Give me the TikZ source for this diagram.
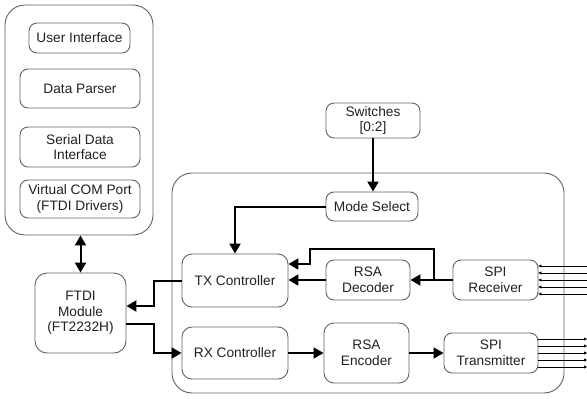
\documentclass[tikz,border=0pt]{standalone}
\usepackage{fontspec}
\setmainfont{Liberation Sans}
\usetikzlibrary{arrows.meta}
\definecolor{boxline}{HTML}{606060}
\definecolor{txt}{HTML}{202020}
\begin{document}
\begin{tikzpicture}[x=1pt,y=-1pt,
  blk/.style={draw=boxline,line width=0.9pt,rounded corners=8pt,align=center,inner sep=1pt,
    font=\fontsize{13.7}{15.5}\selectfont,text=txt},
  outer/.style={draw=boxline,line width=0.9pt,rounded corners=20pt},
  arr/.style={line width=2pt,-{Triangle[length=10pt,width=11pt]}},
  darr/.style={line width=2pt,{Triangle[length=10pt,width=11pt]}-{Triangle[length=10pt,width=11pt]}},
  bus/.style={line width=0.6pt,-{Triangle[length=3pt,width=3pt]}}]
\useasboundingbox (0,0) rectangle (587,399);
% outer containers
\node[outer,minimum width=148pt,minimum height=230pt] (host) at (79,120) {};
\node[outer,minimum width=392pt,minimum height=220pt] (fpga) at (368,283) {};
% host blocks
\node[blk,minimum width=101pt,minimum height=30pt] (ui) at (79.5,38) {User Interface};
\node[blk,minimum width=120pt,minimum height=39pt] (dp) at (80,88.5) {Data Parser};
\node[blk,minimum width=120pt,minimum height=40pt] (sdi) at (80,147) {Serial Data\\Interface};
\node[blk,minimum width=120pt,minimum height=38pt] (vcp) at (80,199) {Virtual COM Port\\(FTDI Drivers)};
\node[blk,minimum width=91pt,minimum height=80pt,rounded corners=12pt] (ftdi) at (80.5,313) {FTDI\\Module\\(FT2232H)};
% fpga blocks
\node[blk,minimum width=94pt,minimum height=35pt] (sw) at (373,120.5) {Switches\\{[0:2]}};
\node[blk,minimum width=92pt,minimum height=29pt] (ms) at (372,206.5) {Mode Select};
\node[blk,minimum width=106pt,minimum height=53pt,rounded corners=10pt] (tx) at (235,280.5) {TX Controller};
\node[blk,minimum width=106pt,minimum height=52pt,rounded corners=10pt] (rx) at (235,353) {RX Controller};
\node[blk,minimum width=84pt,minimum height=40pt] (dec) at (368,280) {RSA\\Decoder};
\node[blk,minimum width=85pt,minimum height=60pt,rounded corners=10pt] (enc) at (366.5,353) {RSA\\Encoder};
\node[blk,minimum width=85pt,minimum height=40pt] (spir) at (495.5,280) {SPI\\Receiver};
\node[blk,minimum width=94pt,minimum height=40pt] (spit) at (491,353) {SPI\\Transmitter};
% helper coordinates
\coordinate (j1) at (154,0);
\coordinate (br) at (434,280);
\coordinate (bt) at (434,249);
\coordinate (bl) at (310,249);
\coordinate (bd) at (310,264);
\coordinate (f1) at ([yshift=7pt]ftdi.east);
\coordinate (f2) at ([yshift=-11pt]ftdi.east);
\coordinate (edge) at (587,0);
% connectors
\draw[darr] (ftdi.north |- host.south) -- (ftdi.north);
\draw[arr] (sw.south) -- (sw.south |- ms.north);
\draw[arr] (ms.west) -| (tx.north);
\draw[arr] (tx.west) -- (tx.west -| j1) |- (f1);
\draw[arr] (f2) -- (f2 -| j1) |- (rx.west);
\draw[arr] (spir.west) -- (spir.west -| dec.east);
\draw[arr] (dec.west) -- (dec.west -| tx.east);
\draw[arr] (br) -- (bt) -- (bl) -- (bd) -- (bd -| tx.east);
\draw[arr] (rx.east) -- (rx.east -| enc.west);
\draw[arr] (enc.east) -- (enc.east -| spit.west);
% SPI buses
\foreach \dy in {-14,-7,0,7,14}{
  \draw[bus] ([yshift=\dy pt]spir.east -| edge) -- ([yshift=\dy pt]spir.east);
  \draw[bus] ([yshift=\dy pt]spit.east) -- ([yshift=\dy pt]spit.east -| edge);
}
\end{tikzpicture}
\end{document}
